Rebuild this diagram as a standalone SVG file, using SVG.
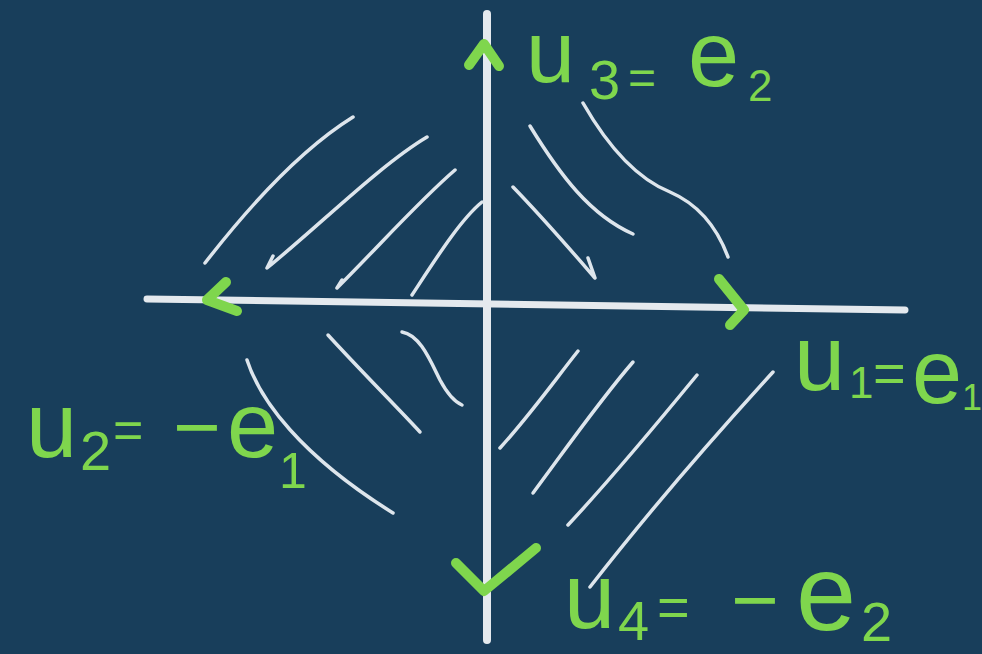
<svg xmlns="http://www.w3.org/2000/svg" width="982" height="654" viewBox="0 0 982 654">
<style>
.axis{stroke:#e4e9ee;stroke-width:8;stroke-linecap:round;fill:none}
.hatch{stroke:#dde5ec;stroke-width:3.5;stroke-linecap:round;stroke-linejoin:round;fill:none}
.head{stroke:#7fd64d;stroke-width:10;stroke-linecap:round;stroke-linejoin:round;fill:none}
.lbl{fill:#7fd64d;font-family:"Liberation Sans","DejaVu Sans",sans-serif}
</style>
<rect width="982" height="654" fill="#183e5b"/>
<g id="axes">
<path d="M147,299 L905,310" class="axis" style="stroke-width:7"/>
<path d="M487,14 L487,640" class="axis"/>
</g>
<g id="hatching">
<path class="hatch" d="M205,263 C250,205 300,150 353,117"/>
<path class="hatch" d="M273,256 L267,268 C320,225 380,165 427,137"/>
<path class="hatch" d="M342,280 L337,288 C380,245 420,200 455,170"/>
<path class="hatch" d="M412,295 C435,260 460,220 482,202"/>
<path class="hatch" d="M530,126 C560,175 590,215 633,234"/>
<path class="hatch" d="M583,103 C610,150 640,180 670,192 C700,205 718,230 728,257"/>
<path class="hatch" d="M513,187 C545,220 575,255 595,278 L588,258"/>
<path class="hatch" d="M247,360 C260,400 300,455 393,513"/>
<path class="hatch" d="M328,335 C360,370 395,405 420,432"/>
<path class="hatch" d="M402,332 C420,335 430,360 440,380 C448,395 455,402 462,405"/>
<path class="hatch" d="M578,351 C555,380 530,415 500,448"/>
<path class="hatch" d="M633,362 C600,400 565,450 533,493"/>
<path class="hatch" d="M697,375 C660,420 610,480 568,525"/>
<path class="hatch" d="M773,372 C720,430 650,510 590,587"/>
</g>
<g id="arrowheads">
<path class="head" d="M469,65 L484,44 L499,66"/>
<path class="head" d="M226,282 L207,300 L237,311"/>
<path class="head" d="M719,279 L744,310 L730,325"/>
<path class="head" d="M456,563 L484,591 L536,548"/>
</g>
<g id="labels" class="lbl">
<text id="u3" class="lbl"><tspan x="526" y="82" font-size="88">u</tspan><tspan x="589" y="99" font-size="56">3</tspan><tspan x="628" y="94" font-size="48">=</tspan><tspan x="688" y="86" font-size="92">e</tspan><tspan x="748" y="101" font-size="44">2</tspan></text>
<text id="u1" class="lbl"><tspan x="794" y="390" font-size="92">u</tspan><tspan x="849" y="398" font-size="44">1</tspan><tspan x="873" y="392" font-size="56">=</tspan><tspan x="912" y="403" font-size="90">e</tspan><tspan x="962" y="410" font-size="36">1</tspan></text>
<text id="u2" class="lbl"><tspan x="26" y="457" font-size="92">u</tspan><tspan x="80" y="470" font-size="56">2</tspan><tspan x="113" y="448" font-size="52">=</tspan><tspan x="173" y="455" font-size="82">−</tspan><tspan x="227" y="457" font-size="92">e</tspan><tspan x="279" y="488" font-size="50">1</tspan></text>
<text id="u4" class="lbl"><tspan x="564" y="628" font-size="92">u</tspan><tspan x="618" y="640" font-size="56">4</tspan><tspan x="657" y="626" font-size="56">=</tspan><tspan x="731" y="628" font-size="82">−</tspan><tspan x="796" y="630" font-size="108">e</tspan><tspan x="861" y="641" font-size="56">2</tspan></text>
</g>
</svg>
